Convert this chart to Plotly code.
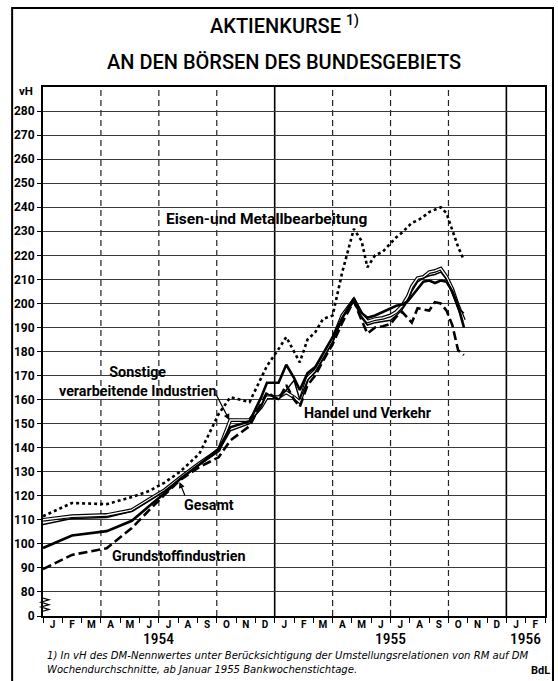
import plotly.graph_objects as go

# Monate seit Anfang Januar 1954 (0 = 1. Jan 1954)
monate = [0, 1.5, 3.3, 4.6, 5.5, 6.3, 7.1, 8.1, 9.1, 9.7, 10.7,
          11.3, 11.6, 12.2, 12.6, 13.0, 13.3, 13.7, 14.1, 14.5, 15.0,
          15.5, 16.1, 16.5, 16.8, 17.2, 17.6, 18.0, 18.3, 18.6, 18.9,
          19.1, 19.4, 19.7, 20.0, 20.3, 20.6, 20.9, 21.2, 21.5, 21.8]

eisen = [111.5, 117, 116.5, 119.5, 122, 125.5, 130, 137.5, 154, 161, 159,
         169, 174, 181, 186, 180, 175.5, 185, 188, 193.5, 195,
         213, 231, 226, 215, 220, 221.5, 225, 227.5, 229.5, 232,
         233.5, 234.5, 236, 238, 239, 240, 237.5, 230, 223.5, 218]

gesamt = [98.3, 103.5, 105.3, 109.6, 115.7, 121, 127, 133, 139.5, 148.5, 151,
          161, 167, 167, 174.5, 169, 164, 171, 173.5, 179, 186,
          194, 202, 196, 194, 195, 196.5, 198, 199, 199.5, 201,
          203, 206, 209, 209.5, 208.5, 209.5, 209, 205, 199, 190]

grundstoff = [89.5, 95.4, 98.2, 106.6, 114, 120.5, 126.5, 132, 136, 143, 149,
              158, 163, 160, 166, 160, 157, 166, 170, 176, 183,
              192, 201, 193, 187.5, 190, 190.5, 191.5, 194.5, 196.5, 194,
              192, 198, 197.5, 197, 200.5, 200, 197, 191, 180.5, 178.5]

sonstige = [110, 111.5, 112, 114, 118.5, 122.4, 127.5, 133.5, 139, 151.5, 151.5,
            157, 161, 161, 163, 161, 159, 169, 172, 178, 185,
            195, 201.5, 195.5, 192.5, 193.5, 194, 195, 196.5, 199, 203,
            207, 210.5, 211, 213, 213.5, 214.5, 211, 206, 199, 193]

handel = [108, 110.5, 111, 113.5, 118, 122, 127, 133, 138.5, 147, 150,
          157, 162.5, 160, 164, 168, 160, 168, 171.5, 177, 184,
          194, 201, 194, 191, 192, 192.5, 193, 195, 197.5, 201,
          205, 209, 210.5, 211.5, 212, 213, 210, 204, 198, 196]

monat_buchst = list("JFMAMJJASOND") * 2 + ["J", "F"]
jahre = ["1954", "1955", "1956"]
jahr_mitte = [6, 18, 25]
y_ticks = list(range(70, 290, 10))
y_text = ["0"] + [str(v) for v in range(80, 290, 10)]

schrift = "Roboto, Liberation Sans, Arial, sans-serif"
schmal = "Roboto Condensed, Roboto, Liberation Sans, Arial"
kursiv = "Liberation Sans Narrow, DejaVu Sans Condensed, Liberation Sans, Arial"

fig = go.Figure()

# Sonstige als Doppellinie (schwarz breit + weiss schmal)
fig.add_trace(go.Scatter(x=monate, y=sonstige, mode="lines", name="Sonstige verarbeitende Industrien",
                         line=dict(color="black", width=3.8)))
fig.add_trace(go.Scatter(x=monate, y=sonstige, mode="lines", showlegend=False, hoverinfo="skip",
                         line=dict(color="white", width=1.4)))
fig.add_trace(go.Scatter(x=monate, y=handel, mode="lines", name="Handel und Verkehr",
                         line=dict(color="black", width=1.5)))
fig.add_trace(go.Scatter(x=monate, y=grundstoff, mode="lines", name="Grundstoffindustrien",
                         line=dict(color="black", width=2.6, dash="9px,4px")))
fig.add_trace(go.Scatter(x=monate, y=gesamt, mode="lines", name="Gesamt",
                         line=dict(color="black", width=2.6)))
fig.add_trace(go.Scatter(x=monate, y=eisen, mode="lines", name="Eisen- und Metallbearbeitung",
                         line=dict(color="black", width=2.6, dash="dot")))

# senkrechte Gitterlinien: Quartale gestrichelt, Jahre durchgezogen
for q in [3, 6, 9, 15, 18, 21]:
    fig.add_vline(x=q, line=dict(color="#222", width=1.2, dash="6px,4px"), layer="below")
for j in [12, 24]:
    fig.add_vline(x=j, line=dict(color="black", width=1.6), layer="below")

# Achsenbruch
zz = "M -0.004,0.008 " + " ".join(
    f"L {(-0.004 if i % 2 == 0 else 0.012)},{0.008 + i * 0.0045:.4f}" for i in range(1, 7))
fig.add_shape(type="path", path=zz, xref="paper", yref="paper", line=dict(color="black", width=1.2))

# Rahmen aussen
fig.add_shape(type="rect", xref="paper", yref="paper", x0=-0.0615, x1=1.0159, y0=-0.15, y1=1.1493,
              line=dict(color="black", width=2))

def txt(text, x, y, xref="paper", yref="paper", xanchor="center", size=12, family=schrift, weight="normal"):
    return dict(text=text, x=x, y=y, xref=xref, yref=yref, xanchor=xanchor, yanchor="middle",
                showarrow=False, font=dict(family=family, size=size, color="black", weight=weight))

anm = [
    txt("AKTIENKURSE <sup>1)</sup>", 0.481, 1.117, size=20, weight=500),
    txt("AN DEN BÖRSEN DES BUNDESGEBIETS", 0.481, 1.047, size=20, weight=500),
    txt("vH", -0.034, 0.9924, size=11.5, weight="bold"),
]
for t, xm in zip(jahre, jahr_mitte):
    anm.append(txt(t, xm, -0.044, xref="x", size=15.5, family=schmal, weight=500))

anm.append(txt("<i>1) In vH des DM-Nennwertes unter Berücksichtigung der Umstellungsrelationen von RM auf DM</i>",
               0.004, -0.0745, xanchor="left", size=11.2, family=kursiv))
anm.append(txt("<i>Wochendurchschnitte, ab Januar 1955 Bankwochenstichtage.</i>",
               0.004, -0.1012, xanchor="left", size=11.2, family=kursiv))
anm.append(txt("BdL", 1.014, -0.103, xanchor="right", size=11, weight="bold"))

# Beschriftungen der Kurven
anm.append(txt("Eisen-und Metallbearbeitung", 11.56, 235.1, "x", "y", size=15.5, weight="bold"))
anm.append(txt("Sonstige<br>verarbeitende Industrien", 4.9, 167.7, "x", "y", size=14.3, weight="bold"))
anm.append(txt("Handel und Verkehr", 16.82, 154.4, "x", "y", size=14.3, weight="bold"))
anm.append(txt("Gesamt", 8.62, 116.2, "x", "y", size=14.3, weight="bold"))
anm.append(txt("Grundstoffindustrien", 7.02, 95, "x", "y", size=14.3, weight="bold"))
anm.append(dict(text="", x=9.65, y=151.5, ax=-14, ay=-27, showarrow=True, arrowhead=2,
                arrowsize=1, arrowwidth=1.2, arrowcolor="black"))
anm.append(dict(text="", x=7.07, y=125.7, ax=6, ay=15, showarrow=True, arrowhead=2,
                arrowsize=1, arrowwidth=1.2, arrowcolor="black"))

fig.update_layout(
    width=558, height=681, autosize=False,
    margin=dict(l=43, r=11, t=87, b=65),
    paper_bgcolor="white", plot_bgcolor="white",
    showlegend=False,
    annotations=anm,
    xaxis=dict(range=[0, 26], tickmode="array", tickvals=[i + 0.5 for i in range(26)],
               ticktext=monat_buchst, ticks="", showgrid=False, zeroline=False,
               showline=True, linecolor="black", linewidth=2, mirror=True, ticklabelstandoff=-2,
               tickfont=dict(family=schrift, size=10, color="black", weight="bold"),
               minor=dict(tickmode="linear", tick0=0, dtick=1, ticks="outside", ticklen=5,
                          tickcolor="black", tickwidth=1.2, showgrid=False)),
    yaxis=dict(range=[70, 290], tickmode="array", tickvals=y_ticks, ticktext=y_text,
               ticks="outside", ticklen=4, tickcolor="black",
               showgrid=True, gridcolor="#3a3a3a", gridwidth=1, zeroline=False,
               showline=True, linecolor="black", linewidth=2, mirror=True,
               tickfont=dict(family=schrift, size=12, color="black", weight="bold")),
)

fig.write_html("out.html", config={"displayModeBar": False},
               post_script="document.body.style.margin='0px';")
